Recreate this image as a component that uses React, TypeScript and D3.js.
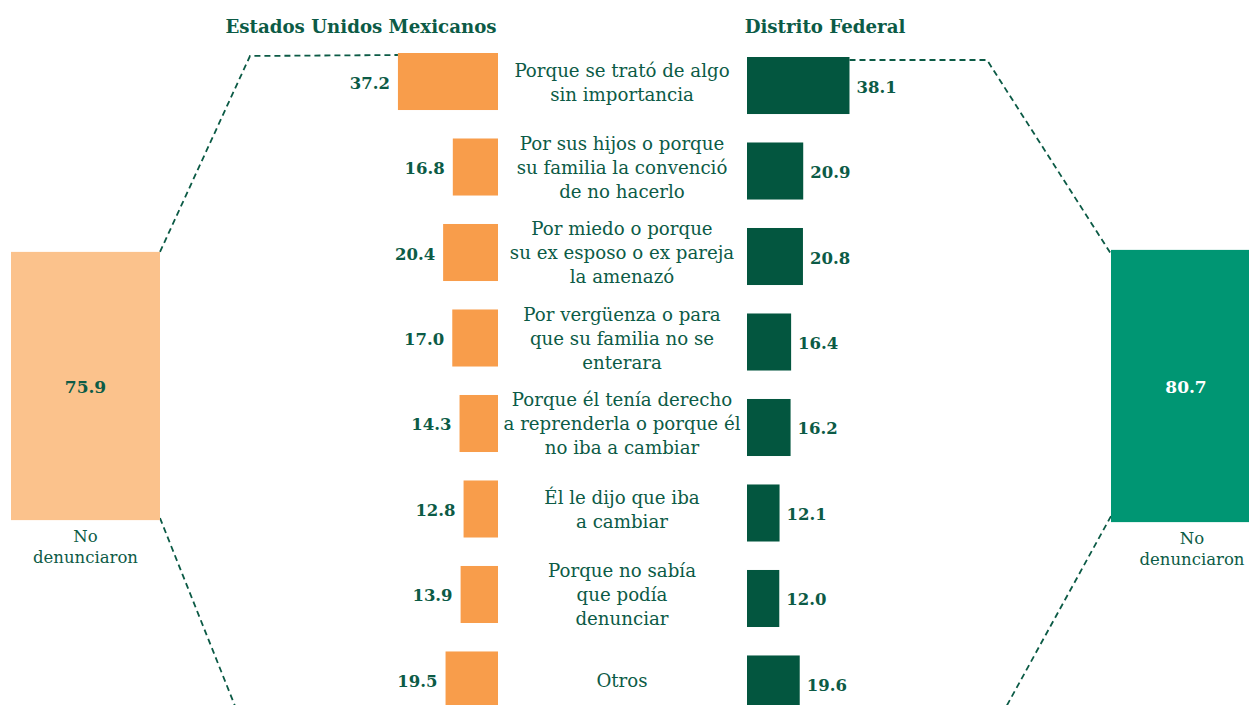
import React from "react";
import * as d3 from "d3";

const categories: string[][] = [
  ["Porque se trató de algo", "sin importancia"],
  ["Por sus hijos o porque", "su familia la convenció", "de no hacerlo"],
  ["Por miedo o porque", "su ex esposo o ex pareja", "la amenazó"],
  ["Por vergüenza o para", "que su familia no se", "enterara"],
  ["Porque él tenía derecho", "a reprenderla o porque él", "no iba a cambiar"],
  ["Él le dijo que iba", "a cambiar"],
  ["Porque no sabía", "que podía", "denunciar"],
  ["Otros"],
];
const nacional: number[] = [37.2, 16.8, 20.4, 17.0, 14.3, 12.8, 13.9, 19.5];
const distrito: number[] = [38.1, 20.9, 20.8, 16.4, 16.2, 12.1, 12.0, 19.6];
const titles: string[] = ["Estados Unidos Mexicanos", "Distrito Federal"];
const totals: number[] = [75.9, 80.7];
const totalLabel: string[] = ["No", "denunciaron"];

const W = 1249;
const H = 705;
const FONT = "DejaVu Serif";
const TEXT = "#0c5b46";
const ORANGE = "#f89d4b";
const ORANGE_LIGHT = "#fbc28c";
const GREEN = "#03563f";
const TEAL = "#009673";

export default function App() {
  const keys = categories.map((_, i) => String(i));
  const y = d3.scaleBand<string>().domain(keys).range([53, 708.5]).paddingInner(0.333).paddingOuter(0);
  const x = d3.scaleLinear().domain([0, 40]).range([0, 107.6]);
  const boxH = d3.scaleLinear().domain([0, 100]).range([205, 288.3]);

  const leftEdge = 498;
  const rightEdge = 747;
  const centerX = 622;
  const greenOff = 4;
  const bw = y.bandwidth();

  const leftBox = { x: 11, w: 149, cy: 386, h: boxH(totals[0]) };
  const rightBox = { x: 1111, w: 150, cy: 386, h: boxH(totals[1]) };
  const lbTop = leftBox.cy - leftBox.h / 2;
  const lbBot = leftBox.cy + leftBox.h / 2;
  const rbTop = rightBox.cy - rightBox.h / 2;
  const rbBot = rightBox.cy + rightBox.h / 2;

  const first = y(keys[0])!;
  const last = y(keys[keys.length - 1])!;

  const lTop = `M${leftBox.x + leftBox.w},${lbTop} L250,${first + 3} L${leftEdge - x(nacional[0])},${first + 2}`;
  const lBot = `M${leftBox.x + leftBox.w},${lbBot - 2} L236,${last + bw}`;
  const rTop = `M${rightEdge + x(distrito[0])},${first + greenOff + 3} L987,${first + greenOff + 3} L${rightBox.x},${rbTop + 4}`;
  const rBot = `M${rightBox.x},${rbBot - 6} L1003,${last + bw + greenOff}`;

  const dash = { fill: "none", stroke: "#0b5a45", strokeWidth: 1.8, strokeDasharray: "6 4" };
  const ts = { fontFamily: FONT };

  return (
    <svg width={W} height={H} style={{ display: "block", position: "absolute", left: 0, top: 0 }}>
      <rect width={W} height={H} fill="#fff" />
      <text x={361} y={33} textAnchor="middle" fontSize={18.2} fontWeight="bold" fill={TEXT} style={ts}>{titles[0]}</text>
      <text x={825} y={33} textAnchor="middle" fontSize={18.2} fontWeight="bold" fill={TEXT} style={ts}>{titles[1]}</text>

      <path d={lTop} {...dash} />
      <path d={lBot} {...dash} />
      <path d={rTop} {...dash} />
      <path d={rBot} {...dash} />

      <rect x={leftBox.x} y={lbTop} width={leftBox.w} height={leftBox.h} fill={ORANGE_LIGHT} />
      <text x={leftBox.x + leftBox.w / 2} y={leftBox.cy + 7} textAnchor="middle" fontSize={17} fontWeight="bold" fill={TEXT} style={ts}>{totals[0].toFixed(1)}</text>
      {totalLabel.map((t, j) => (
        <text key={j} x={leftBox.x + leftBox.w / 2} y={lbBot + 22 + j * 21} textAnchor="middle" fontSize={16.5} fill={TEXT} style={ts}>{t}</text>
      ))}

      <rect x={rightBox.x} y={rbTop} width={rightBox.w} height={rightBox.h} fill={TEAL} />
      <text x={rightBox.x + rightBox.w / 2} y={rightBox.cy + 7} textAnchor="middle" fontSize={17} fontWeight="bold" fill="#fff" style={ts}>{totals[1].toFixed(1)}</text>
      {totalLabel.map((t, j) => (
        <text key={j} x={rightBox.x + rightBox.w / 2 + 6} y={rbBot + 22 + j * 21} textAnchor="middle" fontSize={16.5} fill={TEXT} style={ts}>{t}</text>
      ))}

      {keys.map((k, i) => {
        const top = y(k)!;
        const wL = x(nacional[i]);
        const wR = x(distrito[i]);
        const lines = categories[i];
        const c = top + 30.5;
        return (
          <g key={k}>
            <rect x={leftEdge - wL} y={top} width={wL} height={bw} fill={ORANGE} />
            <text x={leftEdge - wL - 8} y={top + bw / 2 + 7} textAnchor="end" fontSize={16.5} fontWeight="bold" fill={TEXT} style={ts}>{nacional[i].toFixed(1)}</text>
            <rect x={rightEdge} y={top + greenOff} width={wR} height={bw} fill={GREEN} />
            <text x={rightEdge + wR + 7} y={top + greenOff + bw / 2 + 7} textAnchor="start" fontSize={16.5} fontWeight="bold" fill={TEXT} style={ts}>{distrito[i].toFixed(1)}</text>
            {lines.map((ln, j) => (
              <text key={j} x={centerX} y={c + (j - (lines.length - 1) / 2) * 24 + 5} textAnchor="middle" fontSize={18.2} fill={TEXT} style={ts}>{ln}</text>
            ))}
          </g>
        );
      })}
    </svg>
  );
}
